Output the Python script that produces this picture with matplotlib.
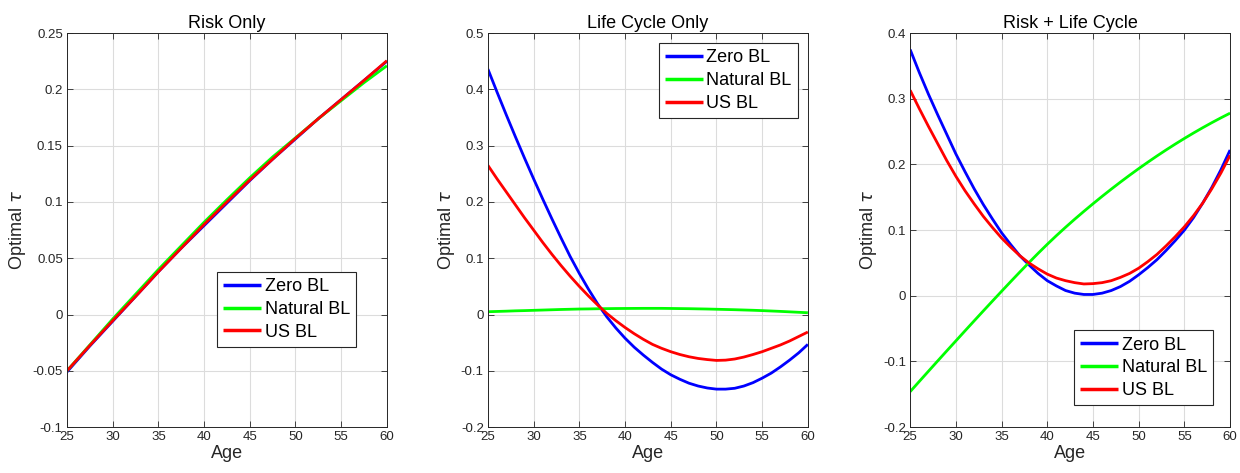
import matplotlib
matplotlib.use("Agg")
import matplotlib.pyplot as plt

plt.rcParams["font.family"] = ["Liberation Sans", "DejaVu Sans"]
plt.rcParams["mathtext.fontset"] = "dejavusans"

# ── data ───────────────────────────────────────────────────
ages_risk = [25, 27.5, 30, 32.5, 35, 37.5, 40, 42.5, 45, 47.5, 50, 52.5, 55, 57.5, 60]
ages = list(range(25, 61))

# Risk only
risk_zero = [-0.051, -0.028, -0.006, 0.016, 0.038, 0.059, 0.079, 0.099, 0.119, 0.138, 0.156, 0.174, 0.191, 0.208, 0.225]
risk_nat  = [-0.050, -0.027, -0.004, 0.018, 0.040, 0.061, 0.082, 0.102, 0.1215, 0.140, 0.157, 0.174, 0.190, 0.206, 0.221]
risk_us   = [-0.050, -0.0275, -0.0055, 0.016, 0.038, 0.059, 0.080, 0.100, 0.1195, 0.138, 0.1565, 0.174, 0.191, 0.208, 0.2255]

# Life cycle only
lc_zero = [0.436, 0.395, 0.355, 0.316, 0.278, 0.241, 0.205, 0.170, 0.136, 0.103,
           0.073, 0.045, 0.019, -0.004, -0.024, -0.042, -0.058, -0.072, -0.085, -0.097,
           -0.107, -0.115, -0.122, -0.127, -0.1305, -0.1325, -0.1325, -0.131, -0.127, -0.121,
           -0.113, -0.104, -0.093, -0.081, -0.068, -0.053]
lc_nat  = [0.005, 0.0055, 0.006, 0.0066, 0.007, 0.0075, 0.008, 0.0085, 0.009, 0.0094,
           0.0098, 0.010, 0.0103, 0.0105, 0.0107, 0.0108, 0.0109, 0.011, 0.011, 0.011,
           0.0108, 0.0106, 0.0104, 0.0101, 0.0098, 0.0094, 0.009, 0.0086, 0.0081, 0.0076,
           0.007, 0.0063, 0.0056, 0.0048, 0.004, 0.0032]
lc_us   = [0.265, 0.241, 0.218, 0.195, 0.172, 0.150, 0.128, 0.107, 0.087, 0.068,
           0.050, 0.033, 0.017, 0.002, -0.011, -0.023, -0.034, -0.044, -0.053, -0.060,
           -0.066, -0.071, -0.075, -0.078, -0.080, -0.0815, -0.081, -0.079, -0.0755, -0.071,
           -0.066, -0.060, -0.054, -0.047, -0.039, -0.031]

# Risk + life cycle
rl_zero = [0.375, 0.340, 0.307, 0.276, 0.246, 0.216, 0.189, 0.163, 0.139, 0.117,
           0.096, 0.078, 0.061, 0.047, 0.034, 0.023, 0.015, 0.008, 0.004, 0.002,
           0.002, 0.004, 0.008, 0.014, 0.022, 0.032, 0.043, 0.055, 0.069, 0.084,
           0.100, 0.119, 0.141, 0.165, 0.192, 0.222]
rl_nat  = [-0.146, -0.1304, -0.1149, -0.0994, -0.084, -0.0687, -0.0534, -0.0382, -0.0231, -0.0081,
           0.0068, 0.0216, 0.0362, 0.0506, 0.0647, 0.0784, 0.0916, 0.1043, 0.1166, 0.1285,
           0.1401, 0.1514, 0.1624, 0.1731, 0.1835, 0.1936, 0.2034, 0.2129, 0.2221, 0.231,
           0.2396, 0.2479, 0.2559, 0.2636, 0.271, 0.2781]
rl_us   = [0.313, 0.285, 0.258, 0.232, 0.206, 0.182, 0.160, 0.140, 0.121, 0.104,
           0.088, 0.074, 0.061, 0.050, 0.041, 0.033, 0.027, 0.023, 0.020, 0.018,
           0.0185, 0.020, 0.023, 0.028, 0.034, 0.042, 0.052, 0.063, 0.076, 0.090,
           0.105, 0.122, 0.141, 0.163, 0.187, 0.214]

labels = ["Zero BL", "Natural BL", "US BL"]
COLORS = ["#0000ff", "#00ff00", "#ff0000"]

panels = [
    ("Risk Only",         ages_risk, [risk_zero, risk_nat, risk_us], (-0.1, 0.25), 0.05),
    ("Life Cycle Only",   ages,      [lc_zero, lc_nat, lc_us],       (-0.2, 0.5),  0.1),
    ("Risk + Life Cycle", ages,      [rl_zero, rl_nat, rl_us],       (-0.2, 0.4),  0.1),
]
legend_pos = [
    dict(loc="lower right", bbox_to_anchor=(0.904, 0.203)),
    dict(loc="upper right", bbox_to_anchor=(0.969, 0.975)),
    dict(loc="lower right", bbox_to_anchor=(0.948, 0.055)),
]
lefts = [0.054, 0.3935, 0.734]

fig = plt.figure(figsize=(12.4, 4.73), dpi=100)

for left, (title, x, series, ylim, ystep), lpos in zip(lefts, panels, legend_pos):
    ax = fig.add_axes([left, 0.097, 0.258, 0.833])
    for vals, c, lab in zip(series, COLORS, labels):
        ax.plot(x, vals, color=c, linewidth=2.0, label=lab,
                solid_joinstyle="round", solid_capstyle="butt")

    ax.set_xlim(25, 60)
    ax.set_ylim(*ylim)
    ax.set_xticks(range(25, 61, 5))
    n = int(round((ylim[1] - ylim[0]) / ystep))
    yt = [round(ylim[0] + i * ystep, 2) for i in range(n + 1)]
    ax.set_yticks(yt)
    ax.set_yticklabels([f"{v:g}" for v in yt])

    ax.grid(True, color="#dcdcdc", linewidth=0.8)
    ax.set_axisbelow(True)
    ax.tick_params(direction="in", top=True, right=True, labelsize=9.5,
                   colors="#262626", length=4, width=0.6, pad=3)
    for sp in ax.spines.values():
        sp.set_color("#262626")
        sp.set_linewidth(0.7)

    ax.set_title(title, fontsize=13, color="black", pad=4)
    ax.set_xlabel("Age", fontsize=13, color="#262626", labelpad=1)
    ax.set_ylabel(r"Optimal $\tau$", fontsize=13, color="#262626", labelpad=3)

    leg = ax.legend(fontsize=13, frameon=True, fancybox=False, edgecolor="#262626",
                    framealpha=1, handlelength=2.1, handletextpad=0.2,
                    borderpad=0.35, labelspacing=0.32, borderaxespad=0, **lpos)
    leg.get_frame().set_linewidth(0.8)
    for line in leg.get_lines():
        line.set_linewidth(2.5)

fig.savefig("out.png", dpi=100)
